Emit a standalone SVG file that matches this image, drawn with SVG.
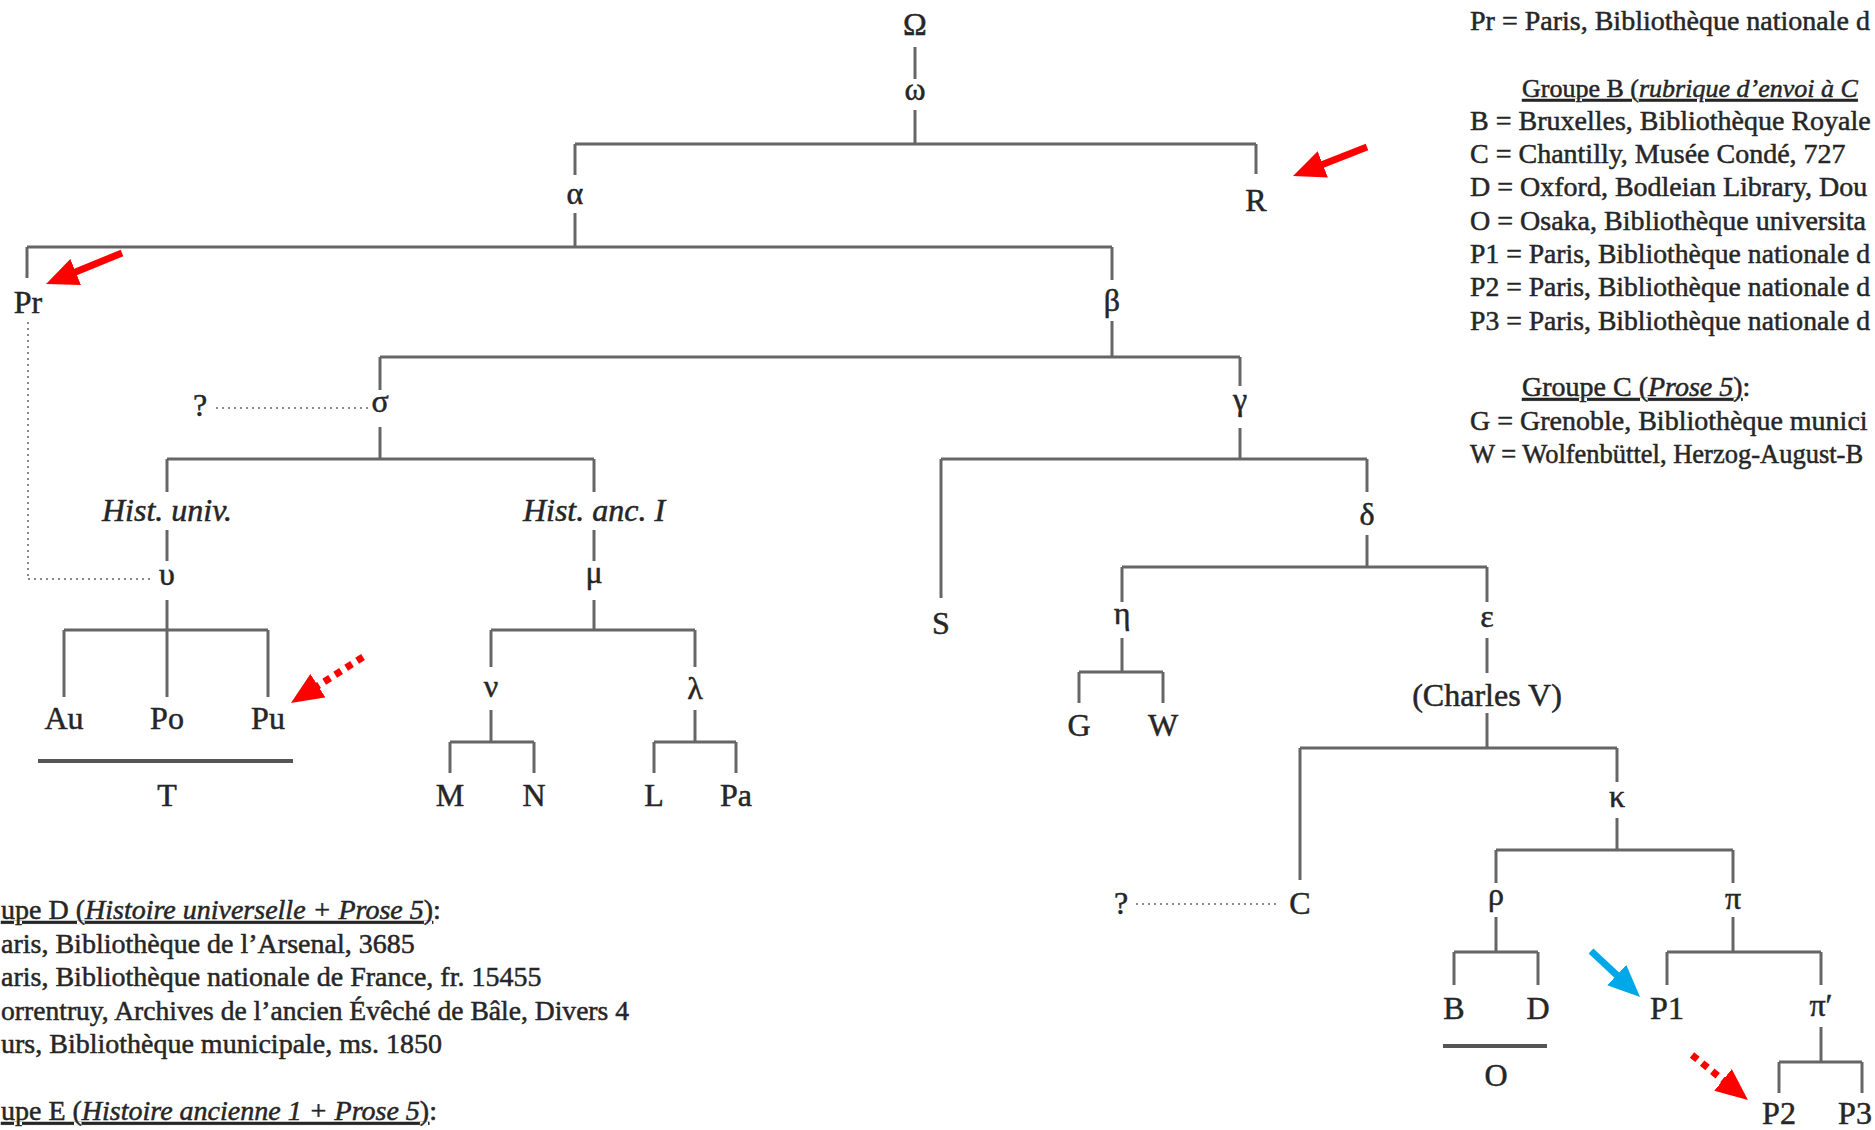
<svg xmlns="http://www.w3.org/2000/svg" width="1875" height="1130" viewBox="0 0 1875 1130">
<style>
.t{font-family:"Liberation Serif","Times New Roman",serif;fill:#262626;stroke:#262626;stroke-width:0.5}
.lbl{font-size:32px;text-anchor:middle}
.leg{font-size:28px}
.sm{font-size:26px}
.it{font-style:italic}
.u{text-decoration:underline}
.ln{stroke:#666;stroke-width:3;fill:none}
.ul{stroke:#555;stroke-width:4;fill:none}
.dot{stroke:#8a8a8a;stroke-width:2;stroke-dasharray:2 4;fill:none}
.ar{stroke:#ff0000;stroke-width:7;fill:none}
.ard{stroke:#ff0000;stroke-width:7;stroke-dasharray:7 6;fill:none}
.ab{stroke:#00a8e8;stroke-width:7;fill:none}
</style>
<defs>
<marker id="hr" markerUnits="userSpaceOnUse" markerWidth="32" markerHeight="28" refX="10" refY="14" orient="auto"><path d="M0,0 L32,14 L0,28 z" fill="#ff0000"/></marker>
<marker id="hb" markerUnits="userSpaceOnUse" markerWidth="32" markerHeight="28" refX="10" refY="14" orient="auto"><path d="M0,0 L32,14 L0,28 z" fill="#00a8e8"/></marker>
</defs>
<rect width="1875" height="1130" fill="#ffffff"/>

<g id="connectors">
<line class="ln" x1="915" y1="47" x2="915" y2="79"/>
<line class="ln" x1="915" y1="110" x2="915" y2="144"/>
<line class="ln" x1="575" y1="144" x2="1256" y2="144"/>
<line class="ln" x1="575" y1="144" x2="575" y2="175"/>
<line class="ln" x1="1256" y1="144" x2="1256" y2="174"/>
<line class="ln" x1="575" y1="213" x2="575" y2="247"/>
<line class="ln" x1="27" y1="247" x2="1112" y2="247"/>
<line class="ln" x1="27" y1="247" x2="27" y2="278"/>
<line class="ln" x1="1112" y1="247" x2="1112" y2="280"/>
<line class="ln" x1="1112" y1="321" x2="1112" y2="357"/>
<line class="ln" x1="380" y1="357" x2="1240" y2="357"/>
<line class="ln" x1="380" y1="357" x2="380" y2="390"/>
<line class="ln" x1="1240" y1="357" x2="1240" y2="386"/>
<line class="dot" x1="216" y1="408" x2="368" y2="408"/>
<line class="dot" x1="28" y1="322" x2="28" y2="579"/>
<line class="dot" x1="28" y1="579" x2="150" y2="579"/>
<line class="ln" x1="380" y1="427" x2="380" y2="459"/>
<line class="ln" x1="167" y1="459" x2="594" y2="459"/>
<line class="ln" x1="167" y1="459" x2="167" y2="492"/>
<line class="ln" x1="594" y1="459" x2="594" y2="492"/>
<line class="ln" x1="167" y1="530" x2="167" y2="561"/>
<line class="ln" x1="594" y1="530" x2="594" y2="561"/>
<line class="ln" x1="167" y1="600" x2="167" y2="697"/>
<line class="ln" x1="64" y1="630" x2="268" y2="630"/>
<line class="ln" x1="64" y1="630" x2="64" y2="697"/>
<line class="ln" x1="268" y1="630" x2="268" y2="697"/>
<line class="ul" x1="38" y1="761" x2="293" y2="761"/>
<line class="ln" x1="594" y1="600" x2="594" y2="630"/>
<line class="ln" x1="491" y1="630" x2="695" y2="630"/>
<line class="ln" x1="491" y1="630" x2="491" y2="667"/>
<line class="ln" x1="695" y1="630" x2="695" y2="667"/>
<line class="ln" x1="491" y1="710" x2="491" y2="742"/>
<line class="ln" x1="450" y1="742" x2="534" y2="742"/>
<line class="ln" x1="450" y1="742" x2="450" y2="773"/>
<line class="ln" x1="534" y1="742" x2="534" y2="773"/>
<line class="ln" x1="695" y1="710" x2="695" y2="742"/>
<line class="ln" x1="654" y1="742" x2="736" y2="742"/>
<line class="ln" x1="654" y1="742" x2="654" y2="773"/>
<line class="ln" x1="736" y1="742" x2="736" y2="773"/>
<line class="ln" x1="1240" y1="428" x2="1240" y2="459"/>
<line class="ln" x1="941" y1="459" x2="1367" y2="459"/>
<line class="ln" x1="941" y1="459" x2="941" y2="598"/>
<line class="ln" x1="1367" y1="459" x2="1367" y2="492"/>
<line class="ln" x1="1367" y1="535" x2="1367" y2="567"/>
<line class="ln" x1="1122" y1="567" x2="1487" y2="567"/>
<line class="ln" x1="1122" y1="567" x2="1122" y2="602"/>
<line class="ln" x1="1487" y1="567" x2="1487" y2="602"/>
<line class="ln" x1="1122" y1="638" x2="1122" y2="672"/>
<line class="ln" x1="1079" y1="672" x2="1163" y2="672"/>
<line class="ln" x1="1079" y1="672" x2="1079" y2="703"/>
<line class="ln" x1="1163" y1="672" x2="1163" y2="703"/>
<line class="ln" x1="1487" y1="638" x2="1487" y2="673"/>
<line class="ln" x1="1487" y1="713" x2="1487" y2="748"/>
<line class="ln" x1="1300" y1="748" x2="1617" y2="748"/>
<line class="ln" x1="1300" y1="748" x2="1300" y2="880"/>
<line class="ln" x1="1617" y1="748" x2="1617" y2="782"/>
<line class="dot" x1="1136" y1="904" x2="1280" y2="904"/>
<line class="ln" x1="1617" y1="818" x2="1617" y2="850"/>
<line class="ln" x1="1496" y1="850" x2="1733" y2="850"/>
<line class="ln" x1="1496" y1="850" x2="1496" y2="883"/>
<line class="ln" x1="1733" y1="850" x2="1733" y2="883"/>
<line class="ln" x1="1496" y1="917" x2="1496" y2="952"/>
<line class="ln" x1="1454" y1="952" x2="1538" y2="952"/>
<line class="ln" x1="1454" y1="952" x2="1454" y2="985"/>
<line class="ln" x1="1538" y1="952" x2="1538" y2="985"/>
<line class="ul" x1="1443" y1="1046" x2="1547" y2="1046"/>
<line class="ln" x1="1733" y1="917" x2="1733" y2="952"/>
<line class="ln" x1="1667" y1="952" x2="1821" y2="952"/>
<line class="ln" x1="1667" y1="952" x2="1667" y2="985"/>
<line class="ln" x1="1821" y1="952" x2="1821" y2="985"/>
<line class="ln" x1="1821" y1="1027" x2="1821" y2="1062"/>
<line class="ln" x1="1779" y1="1062" x2="1862" y2="1062"/>
<line class="ln" x1="1779" y1="1062" x2="1779" y2="1093"/>
<line class="ln" x1="1862" y1="1062" x2="1862" y2="1093"/>
</g>

<g id="nodes" class="t lbl">
<g id="n-Omega"><text x="915" y="35">Ω</text></g>
<g id="n-omega"><text x="915" y="100">ω</text></g>
<g id="n-alpha"><text x="575" y="204">α</text></g>
<g id="n-R"><text x="1256" y="211">R</text></g>
<g id="n-Pr"><text x="28" y="313">Pr</text></g>
<g id="n-beta"><text x="1112" y="311">β</text></g>
<g id="n-q1"><text x="200" y="416">?</text></g>
<g id="n-sigma"><text x="380" y="412">σ</text></g>
<g id="n-gamma"><text x="1240" y="410">γ</text></g>
<g id="n-histuniv"><text x="167" y="521" class="it">Hist. univ.</text></g>
<g id="n-histanc"><text x="594" y="521" class="it">Hist. anc. I</text></g>
<g id="n-upsilon"><text x="167" y="585">υ</text></g>
<g id="n-mu"><text x="594" y="583">μ</text></g>
<g id="n-Au"><text x="64" y="729">Au</text></g>
<g id="n-Po"><text x="167" y="729">Po</text></g>
<g id="n-Pu"><text x="268" y="729">Pu</text></g>
<g id="n-T"><text x="167" y="806">T</text></g>
<g id="n-nu"><text x="491" y="697">ν</text></g>
<g id="n-lambda"><text x="695" y="699">λ</text></g>
<g id="n-M"><text x="450" y="806">M</text></g>
<g id="n-N"><text x="534" y="806">N</text></g>
<g id="n-L"><text x="654" y="806">L</text></g>
<g id="n-Pa"><text x="736" y="806">Pa</text></g>
<g id="n-S"><text x="941" y="634">S</text></g>
<g id="n-delta"><text x="1367" y="525">δ</text></g>
<g id="n-eta"><text x="1122" y="624">η</text></g>
<g id="n-epsilon"><text x="1487" y="627">ε</text></g>
<g id="n-G"><text x="1079" y="736">G</text></g>
<g id="n-W"><text x="1163" y="736">W</text></g>
<g id="n-charles"><text x="1487" y="706">(Charles V)</text></g>
<g id="n-q2"><text x="1121" y="914">?</text></g>
<g id="n-C"><text x="1300" y="914">C</text></g>
<g id="n-kappa"><text x="1617" y="807">κ</text></g>
<g id="n-rho"><text x="1496" y="905">ρ</text></g>
<g id="n-pi"><text x="1733" y="909">π</text></g>
<g id="n-B"><text x="1454" y="1019">B</text></g>
<g id="n-D"><text x="1538" y="1019">D</text></g>
<g id="n-O"><text x="1496" y="1086">O</text></g>
<g id="n-P1"><text x="1667" y="1019">P1</text></g>
<g id="n-piprime"><text x="1821" y="1016">π′</text></g>
<g id="n-P2"><text x="1779" y="1124">P2</text></g>
<g id="n-P3"><text x="1855" y="1124">P3</text></g>
</g>

<g id="legend-right" class="t leg">
<text x="1470" y="30">Pr = Paris, Bibliothèque nationale d</text>
<text x="1522" y="97" class="sm"><tspan class="u">Groupe B (<tspan class="it">rubrique d’envoi à C</tspan></tspan></text>
<text x="1470" y="130">B = Bruxelles, Bibliothèque Royale</text>
<text x="1470" y="163">C = Chantilly, Musée Condé, 727</text>
<text x="1470" y="196">D = Oxford, Bodleian Library, Dou</text>
<text x="1470" y="230">O = Osaka, Bibliothèque universita</text>
<text x="1470" y="263" textLength="400" lengthAdjust="spacingAndGlyphs">P1 = Paris, Bibliothèque nationale d</text>
<text x="1470" y="296" textLength="400" lengthAdjust="spacingAndGlyphs">P2 = Paris, Bibliothèque nationale d</text>
<text x="1470" y="330" textLength="400" lengthAdjust="spacingAndGlyphs">P3 = Paris, Bibliothèque nationale d</text>
<text x="1522" y="396"><tspan class="u">Groupe C (<tspan class="it">Prose 5</tspan>)</tspan>:</text>
<text x="1470" y="430">G = Grenoble, Bibliothèque munici</text>
<text x="1470" y="463" style="font-size:26.5px">W = Wolfenbüttel, Herzog-August-B</text>
</g>

<g id="legend-left" class="t leg">
<text x="1" y="919"><tspan class="u">upe D (<tspan class="it">Histoire universelle + Prose 5</tspan>)</tspan>:</text>
<text x="1" y="953">aris, Bibliothèque de l’Arsenal, 3685</text>
<text x="1" y="986">aris, Bibliothèque nationale de France, fr. 15455</text>
<text x="1" y="1020" textLength="628" lengthAdjust="spacingAndGlyphs">orrentruy, Archives de l’ancien Évêché de Bâle, Divers 4</text>
<text x="1" y="1053">urs, Bibliothèque municipale, ms. 1850</text>
<text x="1" y="1120"><tspan class="u">upe E (<tspan class="it">Histoire ancienne 1 + Prose 5</tspan>)</tspan>:</text>
</g>

<g id="annotations">
<line class="ar" x1="1367" y1="147" x2="1313.5" y2="168" marker-end="url(#hr)"/>
<line class="ar" x1="122" y1="253" x2="66.4" y2="275.7" marker-end="url(#hr)"/>
<line class="ard" x1="363" y1="657" x2="309.5" y2="691.1" marker-end="url(#hr)"/>
<line class="ab" x1="1591" y1="951" x2="1624" y2="981.9" marker-end="url(#hb)"/>
<line class="ard" x1="1692" y1="1055" x2="1730.8" y2="1086.2" marker-end="url(#hr)"/>
</g>
</svg>
